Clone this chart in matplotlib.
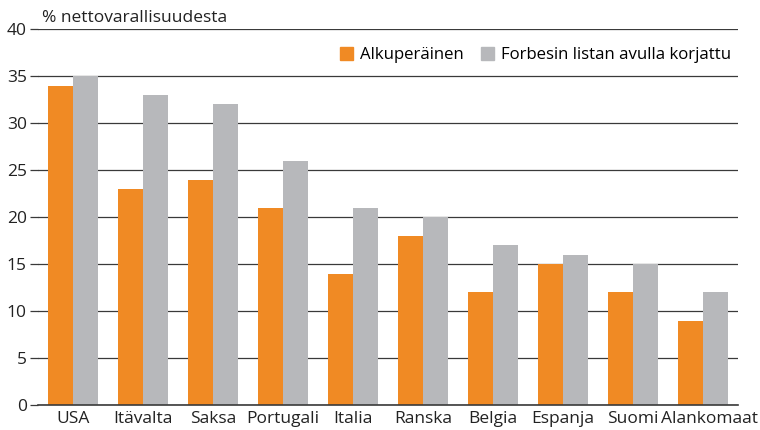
import numpy as np
import matplotlib.pyplot as plt
import matplotlib.transforms as mtransforms
from matplotlib.patches import Patch

plt.rcParams['font.family'] = ['Open Sans', 'DejaVu Sans']

# data
countries = ['USA', 'Itävalta', 'Saksa', 'Portugali', 'Italia',
             'Ranska', 'Belgia', 'Espanja', 'Suomi', 'Alankomaat']
original = [34, 23, 24, 21, 14, 18, 12, 15, 12, 9]
corrected = [35, 33, 32, 26, 21, 20, 17, 16, 15, 12]

orange = '#F08A24'
grey = '#B7B8BB'
line_col = '#3a3a3a'
fs = 12.5

fig = plt.figure(figsize=(7.6, 4.3), dpi=100)
ax = fig.add_axes([0.05, 0.058, 0.921, 0.874])

x = np.arange(len(countries))
w = 0.36
ax.bar(x - w / 2, original, w, color=orange, zorder=3)
ax.bar(x + w / 2, corrected, w, color=grey, zorder=3)

ax.set_xlim(-0.5, len(countries) - 0.5)
ax.set_ylim(0, 40)
ax.set_yticks(range(0, 41, 5))
ax.yaxis.grid(True, color=line_col, linewidth=0.9, zorder=1)
for s in ['top', 'right', 'left']:
    ax.spines[s].set_visible(False)
ax.spines['bottom'].set_color(line_col)
ax.spines['bottom'].set_linewidth(1.2)
ax.spines['bottom'].set_zorder(4)

ax.set_xticks(x)
ax.set_xticklabels(countries)
ax.tick_params(axis='x', length=0, pad=4, labelsize=fs, colors='#222222')
ax.tick_params(axis='y', length=6, width=0.9, color=line_col, pad=2,
               labelsize=fs, labelcolor='#222222')

# last label sits a bit to the right in the original so it doesn't hit "Suomi"
last = ax.get_xticklabels()[-1]
last.set_transform(last.get_transform() +
                   mtransforms.ScaledTranslation(7 / 100, 0, fig.dpi_scale_trans))

fig.text(0.055, 0.958, '% nettovarallisuudesta', fontsize=fs,
         color='#222222', ha='left', va='center')

handles = [Patch(color=orange), Patch(color=grey)]
ax.legend(handles, ['Alkuperäinen', 'Forbesin listan avulla korjattu'],
          loc='upper right', bbox_to_anchor=(1.0, 0.97), ncol=2, frameon=False,
          fontsize=12.1, handlelength=0.75, handleheight=0.75,
          handletextpad=0.45, columnspacing=1.0, borderaxespad=0.0)

fig.savefig('out.png', dpi=100)
